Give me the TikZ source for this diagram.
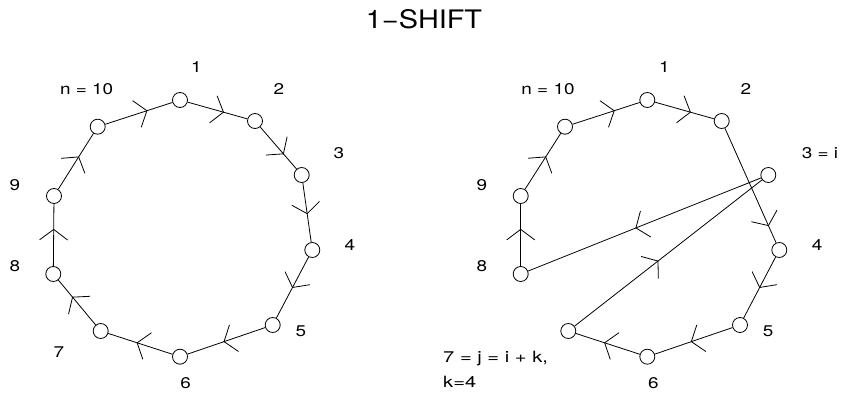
\documentclass[tikz,border=0pt]{standalone}
\usepackage{graphicx}
\usepackage{fontspec}
\setmainfont{TeX Gyre Heros}
\usetikzlibrary{decorations.markings}
\newcommand\hstr[1]{\scalebox{1.22}[1]{#1}}
\newcommand\hwide[1]{\scalebox{1.3}[1]{#1}}
\newcommand\htitle[1]{\scalebox{1.13}[1]{#1}}
\tikzset{
  vtx/.style={circle, draw, minimum size=15pt, inner sep=0pt, line width=0.8pt},
  lbl/.style={anchor=base, inner sep=0pt, font=\fontsize{15.5}{19}\selectfont},
  ln/.style={line width=0.8pt, postaction={decorate},
    decoration={markings, mark=at position #1 with
      {\draw[line width=0.8pt] (-10.5pt,14pt) -- (0pt,0pt) -- (-10.5pt,-14pt);}}},
  ln/.default=0.55
}
\begin{document}
\begin{tikzpicture}[x=1pt,y=-1pt]
\useasboundingbox (0,0) rectangle (841,396);
\node[anchor=base, inner sep=0pt, font=\fontsize{25.5}{30}\selectfont] (title) at (424,28.3) {\htitle{1−SHIFT}};
% left ring
\node[vtx] (a1) at (180,100) {};
\node[vtx] (a2) at (255,121) {};
\node[vtx] (a3) at (301.7,175) {};
\node[vtx] (a4) at (312.3,250) {};
\node[vtx] (a5) at (272.7,325) {};
\node[vtx] (a6) at (180,356.7) {};
\node[vtx] (a7) at (100.7,331) {};
\node[vtx] (a8) at (53.3,274) {};
\node[vtx] (a9) at (54,196) {};
\node[vtx] (a10) at (97.7,126.7) {};
\draw[ln=0.62] (a10) -- (a1);
\draw[ln=0.6] (a1) -- (a2);
\draw[ln=0.64] (a2) -- (a3);
\draw[ln=0.52] (a3) -- (a4);
\draw[ln=0.5] (a4) -- (a5);
\draw[ln=0.53] (a5) -- (a6);
\draw[ln=0.55] (a6) -- (a7);
\draw[ln=0.62] (a7) -- (a8);
\draw[ln=0.59] (a8) -- (a9);
\draw[ln=0.58] (a9) -- (a10);
\node[lbl] (la1) at (196.5,72.7) {\hstr{1}};
\node[lbl] (la2) at (279,94.3) {\hstr{2}};
\node[lbl] (la3) at (339,158.3) {\hstr{3}};
\node[lbl] (la4) at (350,250) {\hstr{4}};
\node[lbl] (la5) at (301,336.7) {\hstr{5}};
\node[lbl] (la6) at (185.7,388.3) {\hstr{6}};
\node[lbl] (la7) at (59,357.3) {\hstr{7}};
\node[lbl] (la8) at (15,271.7) {\hstr{8}};
\node[lbl] (la9) at (15,190.7) {\hstr{9}};
\node[lbl] (lan) at (86.7,94.3) {\hstr{n = 10}};
% right ring
\node[vtx] (b1) at (647.3,100) {};
\node[vtx] (b2) at (721.7,121) {};
\node[vtx] (b3) at (768.3,175) {};
\node[vtx] (b4) at (779.3,250) {};
\node[vtx] (b5) at (740,325) {};
\node[vtx] (b6) at (647.3,356.7) {};
\node[vtx] (b7) at (568.3,331) {};
\node[vtx] (b8) at (520.7,274) {};
\node[vtx] (b9) at (520.7,196) {};
\node[vtx] (b10) at (565,126.7) {};
\draw[ln=0.62] (b10) -- (b1);
\draw[ln=0.6] (b1) -- (b2);
\draw[ln=0.85] (b2) -- (b4);
\draw[ln=0.5] (b4) -- (b5);
\draw[ln=0.53] (b5) -- (b6);
\draw[ln=0.55] (b6) -- (b7);
\draw[ln=0.445] (b7) -- (b3);
\draw[ln=0.537] (b3) -- (b8);
\draw[ln=0.59] (b8) -- (b9);
\draw[ln=0.58] (b9) -- (b10);
\node[lbl] (lb1) at (664.3,72.7) {\hstr{1}};
\node[lbl] (lb2) at (745.8,94.3) {\hstr{2}};
\node[lbl] (lb3) at (820,158.3) {\hstr{3 = i}};
\node[lbl] (lb4) at (817,250) {\hstr{4}};
\node[lbl] (lb5) at (768,336.7) {\hstr{5}};
\node[lbl] (lb6) at (653.3,388.3) {\hstr{6}};
\node[lbl] (lb8) at (482,271.7) {\hstr{8}};
\node[lbl] (lb9) at (482,190.7) {\hstr{9}};
\node[lbl] (lbn) at (548,94.3) {\hstr{n = 10}};
\node[lbl, anchor=base west] (lbj) at (443,362.7) {\hwide{7 = j = i + k,}};
\node[lbl, anchor=base west] (lbk) at (443,387.7) {\hwide{k=4}};
\end{tikzpicture}
\end{document}
